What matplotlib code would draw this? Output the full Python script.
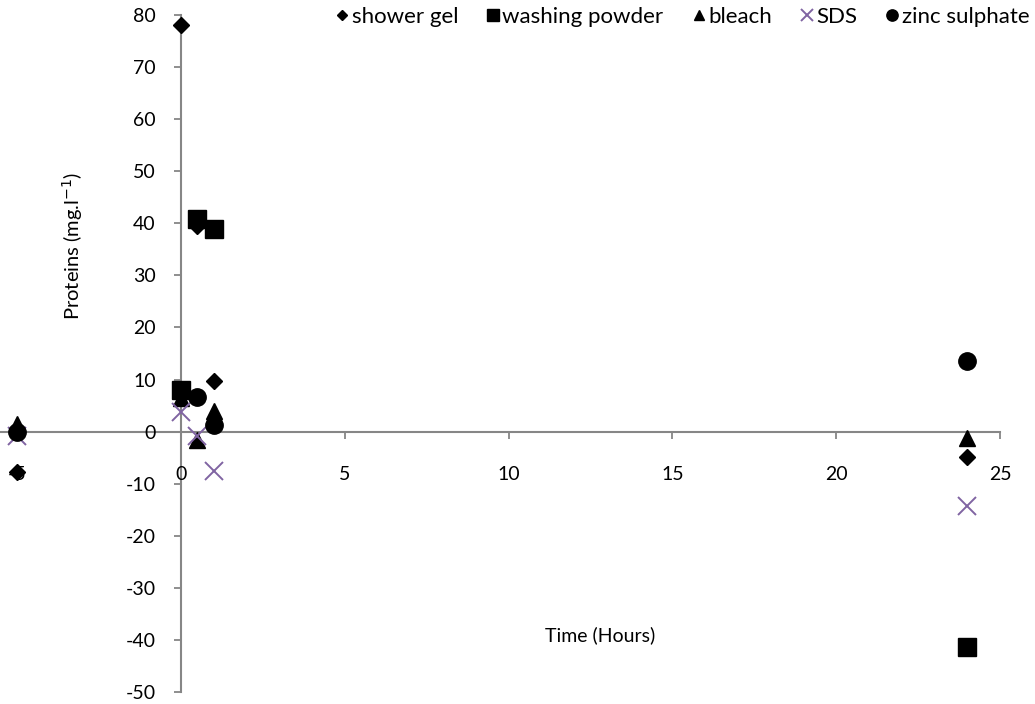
import numpy as np
import matplotlib
matplotlib.use("Agg")
import matplotlib.pyplot as plt

plt.rcParams['font.family'] = ['Lato', 'DejaVu Sans']
plt.rcParams['axes.unicode_minus'] = False

# Sampling times (hours) and protein concentrations (mg/l) per treatment
time = [-5, 0, 0.5, 1, 24]
shower_gel = [-7.8, 78, 39.5, 9.8, -4.9]
washing_powder = [np.nan, 8.0, 40.9, 39.0, -41.3]
bleach = [1.5, 6.5, -1.7, 4.0, -1.3]
sds = [-0.8, 3.7, -0.8, -7.5, -14.2]
zinc_sulphate = [-0.1, np.nan, 6.6, 1.2, 13.6]

series_names = ["shower gel", "washing powder", "bleach", "SDS", "zinc sulphate"]
x_ticks = [-5, 0, 5, 10, 15, 20, 25]
y_ticks = [-50, -40, -30, -20, -10, 0, 10, 20, 30, 40, 50, 60, 70, 80]

W, H = 1035, 704
fig = plt.figure(figsize=(W / 100, H / 100), dpi=100)
ax = fig.add_axes([17 / W, (H - 692) / H, (1000 - 17) / W, (692 - 15) / H])

purple = "#8064A2"
styles = [
    dict(marker="D", ms=8, color="black", ls="none"),
    dict(marker="s", ms=12.5, color="black", ls="none"),
    dict(marker="^", ms=11.5, color="black", ls="none"),
    dict(marker="x", ms=12.5, mew=1.4, color=purple, ls="none"),
    dict(marker="o", ms=12.5, color="black", ls="none"),
]
data = [shower_gel, washing_powder, bleach, sds, zinc_sulphate]
for name, vals, st in zip(series_names, data, styles):
    ax.plot(time, vals, label=name, clip_on=False, **st)

ax.set_xlim(-5, 25)
ax.set_ylim(-50, 80)
ax.set_xticks(x_ticks)
ax.set_yticks(y_ticks)

axis_grey = "#868686"
for side in ("top", "right"):
    ax.spines[side].set_visible(False)
ax.spines["left"].set_position(("data", 0))
ax.spines["bottom"].set_position(("data", 0))
# horizontal axis line runs out to the left edge of the figure
ax.spines["bottom"].set_bounds(-5.55, 25)
for side in ("left", "bottom"):
    ax.spines[side].set_color(axis_grey)
    ax.spines[side].set_linewidth(1.5)
    ax.spines[side].set_zorder(0)

ax.tick_params(axis="x", direction="out", length=5, width=1.3, color=axis_grey,
               pad=20, labelsize=14)
ax.tick_params(axis="y", direction="out", length=5, width=1.3, color=axis_grey,
               pad=13, labelsize=14)
for lab in ax.get_xticklabels() + ax.get_yticklabels():
    lab.set_zorder(1)
ax.patch.set_visible(False)

fig.text(73 / W, 1 - 246 / H, "Proteins (mg.l$^{-1}$)", rotation=90,
         ha="center", va="center", fontsize=14.5)
fig.text(600 / W, 1 - 635 / H, "Time (Hours)", ha="center", va="center",
         fontsize=14)

leg = ax.legend(ncol=5, loc="upper left", bbox_to_anchor=(336 / W, 1 - 7 / H),
                bbox_transform=fig.transFigure, frameon=False, fontsize=16,
                handlelength=0.55, handletextpad=0.15, columnspacing=1.3,
                markerscale=0.65, borderaxespad=0, borderpad=0)

fig.savefig("out.png", dpi=100)
